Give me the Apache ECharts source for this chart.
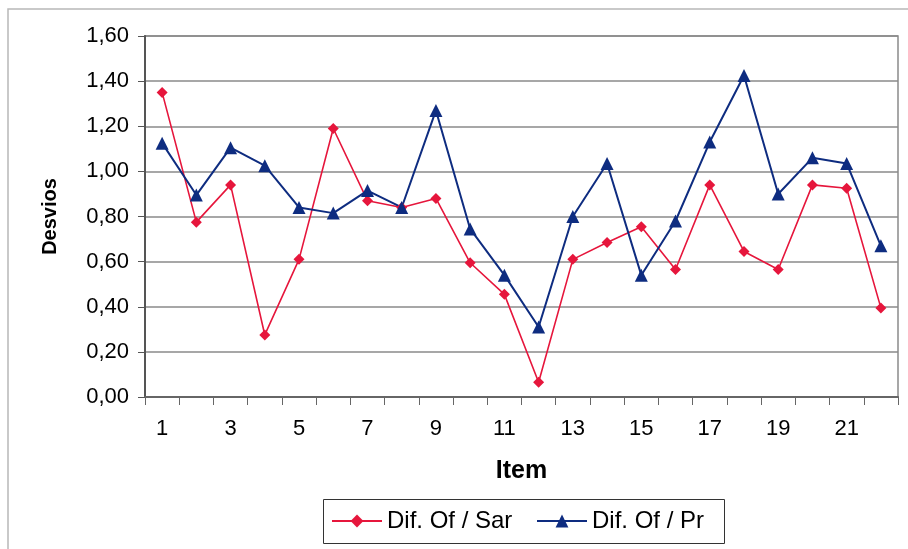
<!DOCTYPE html>
<html>
<head>
<meta charset="utf-8">
<script src="https://cdn.jsdelivr.net/npm/echarts@6/dist/echarts.min.js"></script>
<style>
html, body { margin: 0; padding: 0; background: #fff; }
#chart { width: 908px; height: 549px; }
</style>
</head>
<body>
<div id="chart"></div>
<script>
// itens 1..22
var items = ['1','2','3','4','5','6','7','8','9','10','11','12','13','14','15','16','17','18','19','20','21','22'];
var difOfSar = [1.35, 0.775, 0.94, 0.275, 0.61, 1.19, 0.87, 0.84, 0.88, 0.595, 0.455, 0.065,
	0.61, 0.685, 0.755, 0.565, 0.94, 0.645, 0.565, 0.94, 0.925, 0.395];
var difOfPr = [1.125, 0.895, 1.105, 1.025, 0.84, 0.815, 0.915, 0.84, 1.27, 0.745, 0.54, 0.31,
	0.80, 1.035, 0.54, 0.78, 1.13, 1.425, 0.90, 1.06, 1.035, 0.67];
var seriesNames = ['Dif. Of / Sar', 'Dif. Of / Pr'];

var legendText = { fontSize: 24, color: '#000' };

var chart = echarts.init(document.getElementById('chart'));
var option = {
	backgroundColor: '#ffffff',
	animation: false,
	textStyle: { fontFamily: 'Liberation Sans, Arial, sans-serif' },
	graphic: [{
		type: 'rect',
		shape: { x: 8, y: 9, width: 1000, height: 600 },
		style: { fill: 'none', stroke: '#b8b8b8', lineWidth: 1.5 },
		silent: true
	}, {
		// caixa da legenda
		type: 'rect',
		shape: { x: 323.5, y: 499.5, width: 401, height: 44 },
		style: { fill: 'none', stroke: '#333', lineWidth: 1 },
		silent: true
	}],
	grid: { left: 145, right: 10, top: 36, bottom: 152, show: true, borderColor: '#8a8a8a', borderWidth: 1.5 },
	legend: [{
		left: 331,
		top: 509,
		padding: 0,
		itemWidth: 50,
		itemHeight: 16,
		data: [seriesNames[0]],
		textStyle: legendText
	}, {
		left: 536,
		top: 509,
		padding: 0,
		itemWidth: 50,
		itemHeight: 16,
		data: [seriesNames[1]],
		textStyle: legendText
	}],
	xAxis: {
		type: 'category',
		data: items,
		name: 'Item',
		nameLocation: 'middle',
		nameGap: 62,
		nameTextStyle: { fontSize: 25, fontWeight: 'bold', color: '#000' },
		axisLine: { lineStyle: { color: '#666', width: 2 } },
		axisTick: { show: true, interval: 0, length: 8, lineStyle: { color: '#666' } },
		axisLabel: { interval: 1, fontSize: 22, color: '#000', margin: 21 },
		splitLine: { show: false }
	},
	yAxis: {
		type: 'value',
		min: 0,
		max: 1.6,
		interval: 0.2,
		name: 'Desvios',
		nameLocation: 'middle',
		nameGap: 85,
		nameRotate: 90,
		nameTextStyle: { fontSize: 20, fontWeight: 'bold', color: '#000' },
		axisLine: { show: true, lineStyle: { color: '#555', width: 2 } },
		axisTick: { show: true, length: 7, lineStyle: { color: '#555' } },
		axisLabel: {
			fontSize: 22,
			color: '#000',
			margin: 16,
			formatter: function(v) { return v.toFixed(2).replace('.', ','); }
		},
		splitLine: { show: true, lineStyle: { color: '#8a8a8a', width: 1.5 } }
	},
	series: [{
		name: seriesNames[0],
		type: 'line',
		data: difOfSar,
		symbol: 'diamond',
		symbolSize: 11,
		itemStyle: { color: '#e6163c' },
		lineStyle: { color: '#e6163c', width: 1.6 }
	}, {
		name: seriesNames[1],
		type: 'line',
		data: difOfPr,
		symbol: 'triangle',
		symbolSize: 13,
		itemStyle: { color: '#0e2c80' },
		lineStyle: { color: '#0e2c80', width: 2 }
	}]
};
chart.setOption(option);
</script>
</body>
</html>
